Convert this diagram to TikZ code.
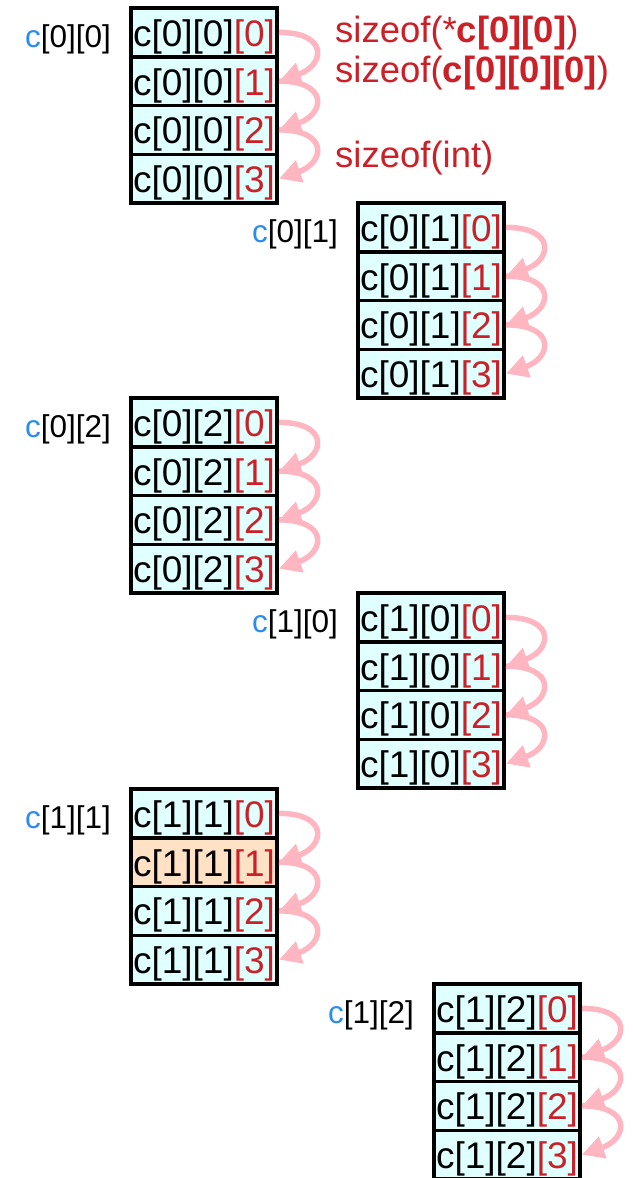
\documentclass[tikz,border=0pt]{standalone}
\usepackage{fontspec}
\setmainfont{Liberation Sans}
\usetikzlibrary{arrows.meta}
\definecolor{cellcyan}{HTML}{E0FFFF}
\definecolor{cellpeach}{HTML}{FFE2C6}
\definecolor{cred}{HTML}{CC2028}
\definecolor{cblue}{HTML}{2A8CF0}
\definecolor{apink}{HTML}{FFB6C1}
\tikzset{
  cell/.style={draw=black, line width=3.5pt, rectangle, anchor=north west, outer sep=0pt,
    minimum width=146pt, minimum height=48.75pt, inner xsep=2pt, inner ysep=0pt,
    text width=142pt, align=left, text height=28pt, text depth=0pt,
    font=\fontsize{37}{40}\selectfont},
  lbl/.style={anchor=base east, inner sep=0pt, font=\fontsize{31.5}{34}\selectfont},
  note/.style={anchor=base west, inner sep=0pt, text=cred, font=\fontsize{36.5}{40}\selectfont},
  arr/.style={color=apink, line width=5.5pt, -{Triangle[length=22pt,width=22pt]}}
}
\begin{document}
\begin{tikzpicture}[x=1pt,y=-1pt]
\useasboundingbox (0,0) rectangle (632,1178);
\foreach \bx/\by/\p/\q/\b in {131/8/0/0/0, 358/203/0/1/1, 131/398/0/2/2, 358/593/1/0/3, 131/789/1/1/4, 434/984/1/2/5}{
  \foreach \k in {0,...,3}{
    \ifnum\k=1 \ifnum\b=4 \def\cf{cellpeach}\else\def\cf{cellcyan}\fi\else\def\cf{cellcyan}\fi
    \node[cell, fill=\cf] (c\b-\k) at (\bx, \by+\k*48.75) {c[\p][\q]\textcolor{cred}{[\k]}};
  }
  \node[lbl] (l\b) at (\bx-20, \by+39) {\textcolor{cblue}{c}[\p][\q]};
  \foreach \k/\n in {0/1,1/2,2/3}{
    \draw[arr] ([xshift=2pt]c\b-\k.east) .. controls +(50,0) and +(46,-16) .. ([xshift=2pt]c\b-\n.east);
  }
}
\node[note] (s1) at (335,42) {sizeof(*\textbf{c[0][0]})};
\node[note] (s2) at (335,82) {sizeof(\textbf{c[0][0][0]})};
\node[note] (s3) at (335,167) {sizeof(int)};
\end{tikzpicture}
\end{document}
